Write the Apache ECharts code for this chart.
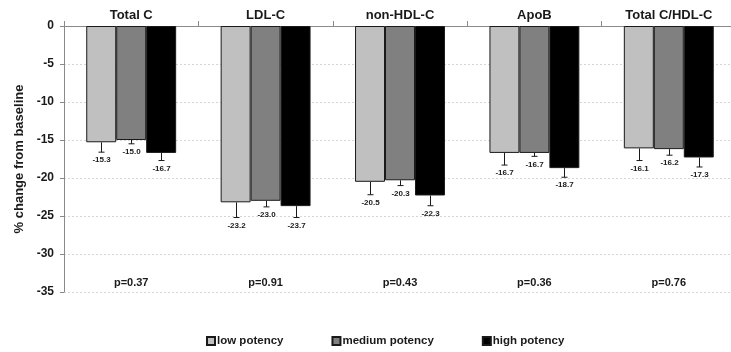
<!DOCTYPE html>
<html>
<head>
<meta charset="utf-8">
<script src="https://cdn.jsdelivr.net/npm/echarts@6/dist/echarts.min.js"></script>
<style>html,body{margin:0;padding:0;background:#fff}#c{width:731px;height:352px}</style>
</head>
<body>
<div id="c"></div>
<script>
const categories = ['Total C', 'LDL-C', 'non-HDL-C', 'ApoB', 'Total C/HDL-C'];
const seriesNames = ['low potency', 'medium potency', 'high potency'];
const lowValues = [-15.3, -23.2, -20.5, -16.7, -16.1];
const mediumValues = [-15.0, -23.0, -20.3, -16.7, -16.2];
const highValues = [-16.7, -23.7, -22.3, -18.7, -17.3];
const lowErrors = [1.3, 2.0, 1.7, 1.6, 1.6];
const mediumErrors = [0.5, 0.8, 0.7, 0.45, 0.8];
const highErrors = [1.0, 1.5, 1.35, 1.2, 1.25];
const pValues = ['p=0.37', 'p=0.91', 'p=0.43', 'p=0.36', 'p=0.76'];
const yTicks = [0, -5, -10, -15, -20, -25, -30, -35];

const FONT = '"Liberation Sans", Arial, sans-serif';
const colors = ['#c0c0c0', '#808080', '#000000'];
const BAR_FRAC = 0.223;
const P_ROW = -33.8;

const allValues = [lowValues, mediumValues, highValues];
const allErrors = [lowErrors, mediumErrors, highErrors];

const errData = [];
allValues.forEach((vals, s) => {
  vals.forEach((v, i) => errData.push([i, v, allErrors[s][i], s]));
});

const chart = echarts.init(document.getElementById('c'), null, {renderer: 'canvas'});

const barSeries = seriesNames.map((name, s) => ({
  name: name,
  type: 'bar',
  data: allValues[s],
  barWidth: (BAR_FRAC * 100) + '%',
  barGap: '0%',
  itemStyle: {color: colors[s], borderColor: '#1a1a1a', borderWidth: 1},
  emphasis: {disabled: true},
  z: 2
}));

chart.setOption({
  animation: false,
  backgroundColor: '#fff',
  textStyle: {fontFamily: FONT},
  grid: {left: 64, top: 26, width: 672, height: 266, containLabel: false, outerBoundsMode: 'none'},
  legend: {
    data: seriesNames,
    left: 201,
    top: 330,
    icon: 'rect',
    itemWidth: 8,
    itemHeight: 8,
    itemGap: 48,
    textStyle: {fontFamily: FONT, fontWeight: 'bold', fontSize: 11.5, color: '#1a1a1a', padding: [0, 0, 0, -3]}
  },
  xAxis: {
    type: 'category',
    position: 'top',
    data: categories,
    axisLine: {show: true, lineStyle: {color: '#8a8a8a', width: 1}},
    axisTick: {show: true, length: 5, lineStyle: {color: '#8a8a8a'}},
    axisLabel: {fontFamily: FONT, fontWeight: 'bold', fontSize: 13, color: '#1a1a1a', margin: 4},
    splitLine: {show: false}
  },
  yAxis: {
    type: 'value',
    min: -35,
    max: 0,
    interval: 5,
    name: '% change from baseline',
    nameLocation: 'middle',
    nameGap: 32,
    nameTextStyle: {fontFamily: FONT, fontWeight: 'bold', fontSize: 13, color: '#1a1a1a'},
    axisLine: {show: true, lineStyle: {color: '#8a8a8a', width: 1}},
    axisTick: {show: true, length: 4, lineStyle: {color: '#8a8a8a'}},
    axisLabel: {
      fontFamily: FONT, fontWeight: 'bold', fontSize: 12, color: '#1a1a1a', margin: 10,
      formatter: v => (yTicks.indexOf(v) >= 0 ? String(v) : '')
    },
    splitLine: {show: true, lineStyle: {color: '#d6d6d6', type: [2, 2], width: 1}}
  },
  series: barSeries.concat([
    {
      name: 'errors',
      type: 'custom',
      z: 10,
      silent: true,
      encode: {x: 0, y: 1},
      data: errData,
      renderItem: function (params, api) {
        const ci = api.value(0), v = api.value(1), e = api.value(2), s = api.value(3);
        const band = api.size([1, 0])[0];
        const bw = band * BAR_FRAC;
        const c = api.coord([ci, v]);
        const x = Math.round(c[0] + (s - 1) * bw) + 0.5;
        const y0 = c[1];
        const y1 = api.coord([ci, v - e])[1];
        return {
          type: 'group',
          children: [
            {type: 'line', shape: {x1: x, y1: y0, x2: x, y2: y1}, style: {stroke: '#1a1a1a', lineWidth: 1}},
            {type: 'line', shape: {x1: x - 3, y1: y1, x2: x + 3, y2: y1}, style: {stroke: '#1a1a1a', lineWidth: 1}},
            {type: 'text', x: x, y: y1 + 8, style: {text: v.toFixed(1), font: 'bold 8px ' + FONT, fill: '#1a1a1a', align: 'center', verticalAlign: 'middle'}}
          ]
        };
      }
    },
    {
      name: 'pvalues',
      type: 'custom',
      z: 10,
      silent: true,
      encode: {x: 0, y: 1},
      data: pValues.map((p, i) => [i, P_ROW]),
      renderItem: function (params, api) {
        const c = api.coord([api.value(0), api.value(1)]);
        return {
          type: 'text', x: c[0], y: c[1],
          style: {text: pValues[params.dataIndex], font: 'bold 11px ' + FONT, fill: '#1a1a1a', align: 'center', verticalAlign: 'middle'}
        };
      }
    }
  ])
});
</script>
</body>
</html>
